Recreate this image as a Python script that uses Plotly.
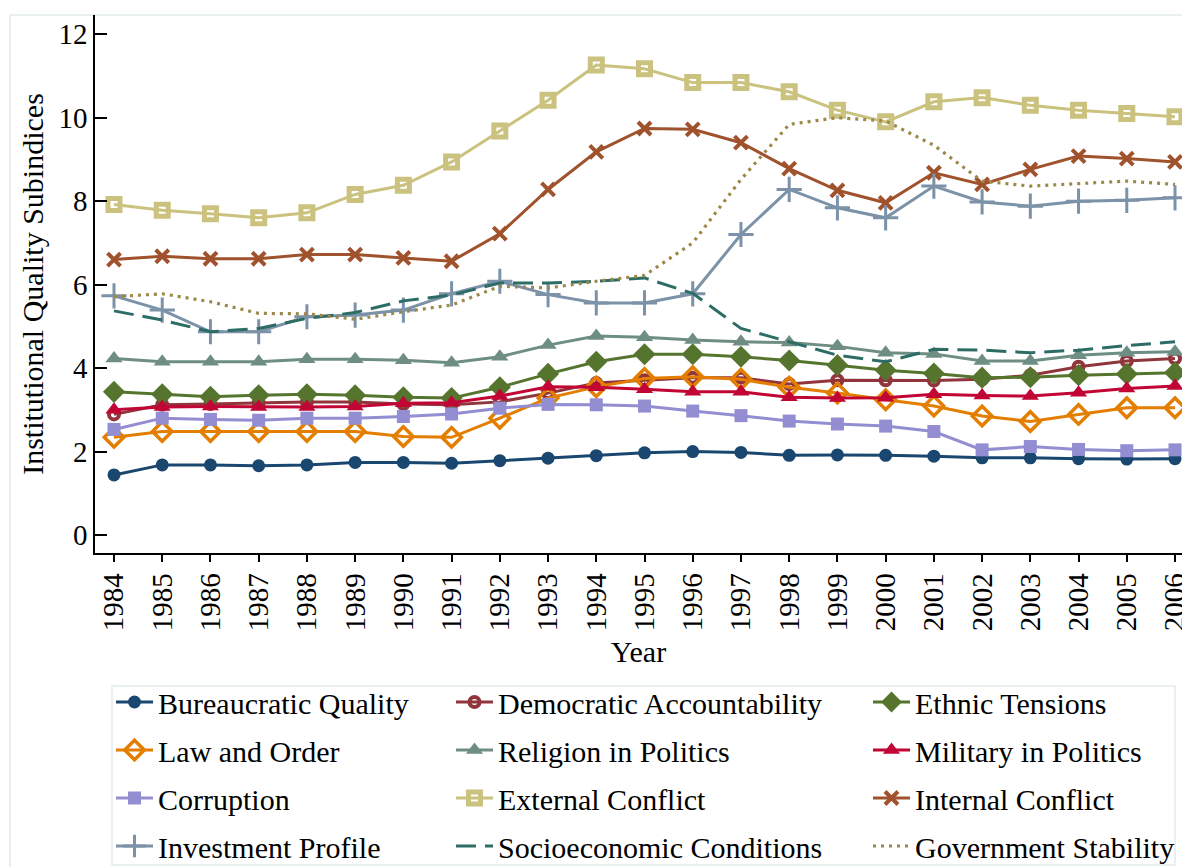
import plotly.graph_objects as go

years = list(range(1984, 2007))

bureaucratic_quality = [1.44, 1.68, 1.68, 1.66, 1.68, 1.74, 1.74, 1.72, 1.78, 1.84, 1.90, 1.97, 2.00,
                        1.98, 1.91, 1.92, 1.91, 1.89, 1.85, 1.85, 1.83, 1.82, 1.83]
democratic_accountability = [2.89, 3.12, 3.14, 3.16, 3.19, 3.19, 3.14, 3.12, 3.19, 3.40, 3.64, 3.71, 3.77,
                             3.77, 3.62, 3.71, 3.71, 3.70, 3.73, 3.83, 4.03, 4.17, 4.23]
ethnic_tensions = [3.43, 3.37, 3.31, 3.35, 3.37, 3.35, 3.30, 3.28, 3.54, 3.86, 4.15, 4.33, 4.33,
                   4.27, 4.18, 4.07, 3.95, 3.87, 3.77, 3.78, 3.83, 3.86, 3.89]
law_and_order = [2.34, 2.48, 2.48, 2.48, 2.48, 2.48, 2.36, 2.34, 2.80, 3.28, 3.55, 3.75, 3.79,
                 3.73, 3.54, 3.40, 3.24, 3.09, 2.85, 2.72, 2.89, 3.05, 3.05]
religion_in_politics = [4.23, 4.15, 4.15, 4.15, 4.21, 4.21, 4.19, 4.13, 4.27, 4.55, 4.77, 4.74, 4.67,
                        4.63, 4.61, 4.52, 4.37, 4.34, 4.17, 4.17, 4.31, 4.37, 4.39]
military_in_politics = [3.00, 3.07, 3.08, 3.07, 3.07, 3.08, 3.16, 3.17, 3.33, 3.55, 3.54, 3.49, 3.43,
                        3.43, 3.30, 3.28, 3.29, 3.37, 3.34, 3.33, 3.41, 3.51, 3.57]
corruption = [2.53, 2.80, 2.77, 2.75, 2.80, 2.80, 2.84, 2.90, 3.04, 3.13, 3.12, 3.09, 2.97,
              2.86, 2.73, 2.66, 2.61, 2.48, 2.04, 2.12, 2.05, 2.02, 2.04]
external_conflict = [7.92, 7.78, 7.70, 7.60, 7.72, 8.16, 8.38, 8.94, 9.68, 10.42, 11.26, 11.17, 10.84,
                     10.84, 10.62, 10.18, 9.90, 10.38, 10.48, 10.30, 10.18, 10.10, 10.02]
internal_conflict = [6.60, 6.68, 6.62, 6.62, 6.72, 6.72, 6.64, 6.56, 7.22, 8.28, 9.18, 9.74, 9.72,
                     9.40, 8.78, 8.26, 7.96, 8.68, 8.40, 8.76, 9.08, 9.02, 8.94]
investment_profile = [5.73, 5.39, 4.87, 4.87, 5.23, 5.27, 5.39, 5.78, 6.08, 5.76, 5.56, 5.56, 5.78,
                      7.20, 8.28, 7.84, 7.60, 8.36, 7.98, 7.88, 8.00, 8.02, 8.08]
socioeconomic_conditions = [5.37, 5.15, 4.87, 4.95, 5.19, 5.33, 5.61, 5.75, 6.04, 6.04, 6.08, 6.16, 5.79,
                            4.95, 4.63, 4.31, 4.15, 4.45, 4.43, 4.37, 4.43, 4.54, 4.63]
government_stability = [5.71, 5.78, 5.59, 5.31, 5.30, 5.17, 5.35, 5.51, 5.96, 5.92, 6.08, 6.22, 7.00,
                        8.52, 9.84, 10.00, 9.92, 9.34, 8.48, 8.36, 8.42, 8.48, 8.40]

series_names = ["Bureaucratic Quality", "Democratic Accountability", "Ethnic Tensions",
                "Law and Order", "Religion in Politics", "Military in Politics",
                "Corruption", "External Conflict", "Internal Conflict",
                "Investment Profile", "Socioeconomic Conditions", "Government Stability"]
series_values = [bureaucratic_quality, democratic_accountability, ethnic_tensions,
                 law_and_order, religion_in_politics, military_in_politics,
                 corruption, external_conflict, internal_conflict,
                 investment_profile, socioeconomic_conditions, government_stability]

y_tick_values = [0, 2, 4, 6, 8, 10, 12]

# styles: color, marker symbol, marker size, marker line width, dash, mode
styles = [
    ("#1a476f", "circle", 13, 0, "solid", "lines+markers"),
    ("#90353b", "circle-open", 10, 4, "solid", "lines+markers"),
    ("#55752f", "diamond", 17, 0, "solid", "lines+markers"),
    ("#e37e00", "diamond-open", 15, 3.5, "solid", "lines+markers"),
    ("#6e8e84", "triangle-up", 15, 0, "solid", "lines+markers"),
    ("#c10534", "triangle-up", 15, 0, "solid", "lines+markers"),
    ("#938dd2", "square", 13, 0, "solid", "lines+markers"),
    ("#cac27e", "square-open", 12, 5, "solid", "lines+markers"),
    ("#a0522d", "x-thin-open", 13, 4, "solid", "lines+markers"),
    ("#7b92a8", "cross-thin-open", 18, 3, "solid", "lines+markers"),
    ("#2d6d66", "circle", 1, 0, "20px,9px", "lines"),
    ("#9c8847", "circle", 1, 0, "3px,5px", "lines"),
]
legend_ids = ["legend", "legend2", "legend3"]

FONT = "Liberation Serif, Times New Roman, serif"

fig = go.Figure()
for i, (name, vals) in enumerate(zip(series_names, series_values)):
    color, sym, ms, mlw, dash, mode = styles[i]
    fig.add_trace(go.Scatter(
        x=years, y=vals, name=name, mode=mode,
        line=dict(color=color, width=3 if dash != "3px,5px" else 3.2, dash=dash),
        marker=dict(symbol=sym, size=ms, color=color, line=dict(width=mlw, color=color)),
        legend=legend_ids[i % 3], legendgroup=name, cliponaxis=False,
    ))

W, H = 1182, 867
ml, mr, mt, mb = 95, 0, 15, 314
pw = W - ml - mr
ph = H - mt - mb

def px_x(p):
    return (p - ml) / pw

def px_y(p):
    return (H - mb - p) / ph

legend_common = dict(orientation="v", bgcolor="rgba(0,0,0,0)", borderwidth=0,
                     font=dict(family=FONT, size=30, color="black"),
                     tracegroupgap=6, itemwidth=37, xanchor="left", yanchor="top",
                     y=px_y(676))

fig.update_layout(
    width=W, height=H,
    margin=dict(l=ml, r=mr, t=mt, b=mb, autoexpand=False),
    paper_bgcolor="white", plot_bgcolor="white",
    font=dict(family=FONT, color="black"),
    showlegend=True,
    legend=dict(legend_common, x=px_x(111)),
    legend2=dict(legend_common, x=px_x(451)),
    legend3=dict(legend_common, x=px_x(868)),
    xaxis=dict(
        range=[1983.606, 2006.145], tickmode="array", tickvals=years,
        ticktext=[str(y) for y in years], tickangle=-90, ticklabeloverflow="allow",
        ticks="outside", ticklen=7, tickwidth=1.5, tickcolor="black",
        showline=True, linecolor="black", linewidth=1.5, showgrid=False, zeroline=False,
        tickfont=dict(family=FONT, size=29, color="black"),
        title=dict(text="Year", font=dict(family=FONT, size=30, color="black"), standoff=11),
        automargin=False,
    ),
    yaxis=dict(
        range=[-0.431, 12.46], tickmode="array", tickvals=y_tick_values,
        ticks="inside", ticklen=12, tickwidth=1.5, tickcolor="black",
        showline=True, linecolor="black", linewidth=1.5, showgrid=False, zeroline=False,
        tickfont=dict(family=FONT, size=29, color="black"),
        title=dict(text="Institutional Quality Subindices",
                   font=dict(family=FONT, size=30, color="black"), standoff=6),
        automargin=False,
    ),
    shapes=[
        dict(type="rect", xref="paper", yref="paper",
             x0=px_x(10), x1=px_x(1200), y0=px_y(900), y1=px_y(15),
             line=dict(color="#e3ecee", width=1.5), fillcolor="rgba(0,0,0,0)", layer="below"),
        dict(type="rect", xref="paper", yref="paper",
             x0=px_x(112), x1=px_x(1175), y0=px_y(865), y1=px_y(686),
             line=dict(color="#e3ecee", width=1.5), fillcolor="rgba(0,0,0,0)", layer="below"),
    ],
)

fig.write_html("out.html")
